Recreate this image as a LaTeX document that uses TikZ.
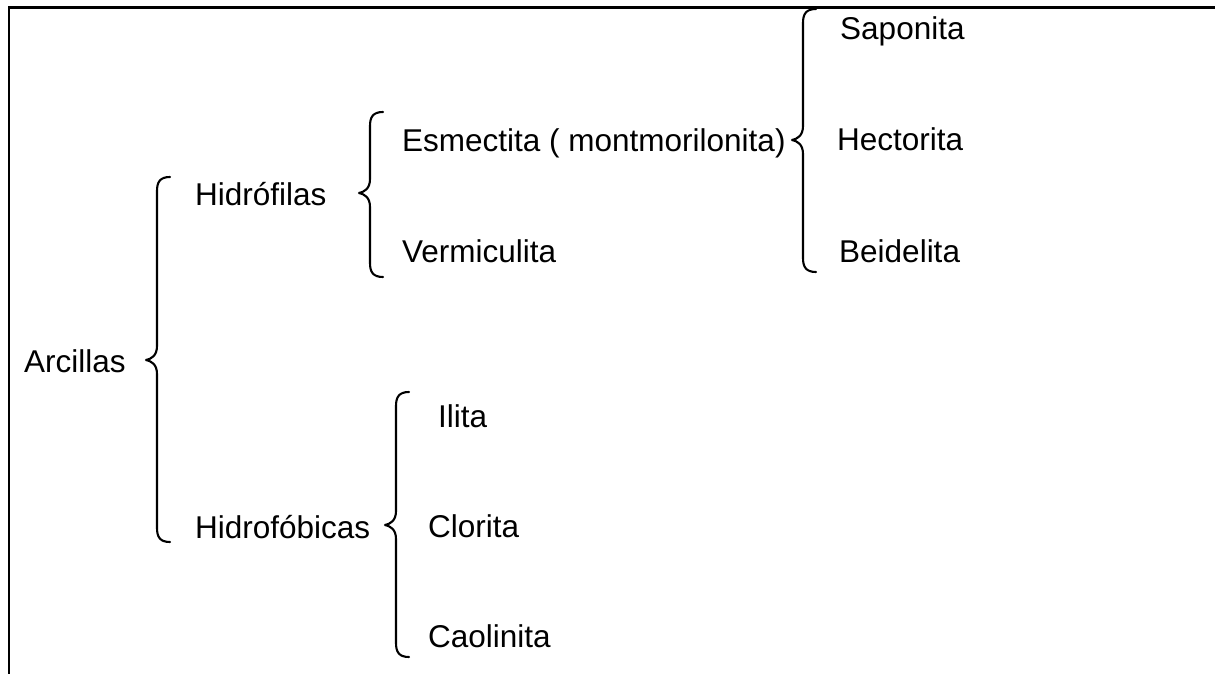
\documentclass[tikz,border=0pt]{standalone}
\usepackage{fontspec}
\setmainfont{Liberation Sans}
\begin{document}
% one unit = 1pt, y grows downwards
\begin{tikzpicture}[x=1pt,y=-1pt,
  lbl/.style={anchor=base west,inner sep=0pt,font=\fontsize{31.5}{36}\selectfont},
  brc/.style={line width=2.1pt,line cap=round,line join=round},
  frm/.style={line width=2.6pt}]
\useasboundingbox (0,0) rectangle (1215,674);

% frame (top and left edges)
\draw[frm] (9,674) -- (9,7.5) -- (1216,7.5);

% left brace: #1 stem x, #2 top y, #3 tip y, #4 bottom y
\newcommand{\curlybr}[4]{%
  \draw[brc] (#1+13,#2) .. controls (#1+3,#2) and (#1,#2+5) .. (#1,#2+14)
    -- (#1,#3-14) .. controls (#1,#3-4) and (#1-6,#3-1) .. (#1-11,#3)
    .. controls (#1-6,#3+1) and (#1,#3+4) .. (#1,#3+14)
    -- (#1,#4-14) .. controls (#1,#4-5) and (#1+3,#4) .. (#1+13,#4);}

\node[lbl] (arc) at (24,372) {Arcillas};
\node[lbl] (hfil) at (195,205) {Hidrófilas};
\node[lbl] (hfob) at (195,538) {Hidrofóbicas};
\node[lbl] (esm) at (402,152) {Esmectita ( montmorilonita)};
\node[lbl] (ver) at (402,262) {Vermiculita};
\node[lbl] (sap) at (840,40) {Saponita};
\node[lbl] (hec) at (837,150) {Hectorita};
\node[lbl] (bei) at (839,262) {Beidelita};
\node[lbl] (ili) at (438,427) {Ilita};
\node[lbl] (clo) at (428,537) {Clorita};
\node[lbl] (cao) at (428,647) {Caolinita};

\curlybr{157}{177}{360}{542}
\curlybr{370}{112}{193}{277}
\curlybr{803}{9}{140}{272}
\curlybr{396}{392}{525}{657}
\end{tikzpicture}
\end{document}
